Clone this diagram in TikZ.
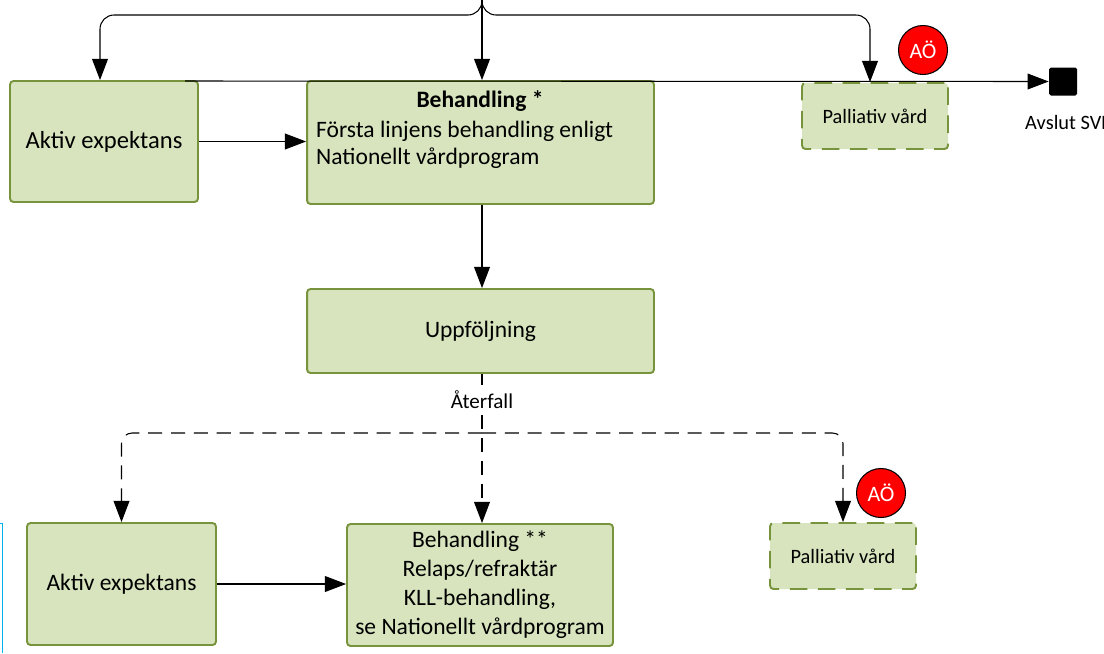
\documentclass[tikz,border=0pt]{standalone}
\usepackage{fontspec}
\setmainfont{Carlito}
\usetikzlibrary{arrows.meta}
\definecolor{boxfill}{HTML}{D7E4BD}
\definecolor{boxline}{HTML}{77933C}
\definecolor{aored}{HTML}{FF0000}
\definecolor{markblue}{HTML}{00B0F0}
\begin{document}
\begin{tikzpicture}[x=0.02cm, y=-0.02cm,
  stepbox/.style={draw=boxline, fill=boxfill, line width=1.1pt, rounded corners=2pt,
    font=\fontsize{13.4}{16.5}\selectfont, align=center, inner sep=0pt},
  pallbox/.style={stepbox, dash pattern=on 10pt off 6pt, font=\fontsize{11.6}{14}\selectfont,
    minimum width=2.92cm, minimum height=1.32cm},
  aocirc/.style={circle, draw=black, line width=0.6pt, fill=aored, text=white,
    minimum size=0.98cm, inner sep=0pt, font=\fontsize{12.5}{14}\selectfont},
  arr/.style={-{Triangle[length=12pt,width=9pt]}, line width=0.6pt},
  plain/.style={font=\fontsize{11.6}{14}\selectfont}]
\useasboundingbox (0,0) rectangle (1104,653);

% Första linjen
\node[stepbox, minimum width=3.76cm, minimum height=2.42cm,
  font=\fontsize{14}{16.5}\selectfont] (aktivA) at (104,141.5) {Aktiv expektans};
\node[stepbox, minimum width=6.94cm, minimum height=2.46cm] (behA) at (480.5,142.5) {};
\node[font=\fontsize{13.4}{16.5}\selectfont\bfseries] (behAtitle) at (480,101) {Behandling *};
\node[anchor=west, align=left, font=\fontsize{13.4}{15.6}\selectfont] (behAtext) at (310,145)
  {Första linjens behandling enligt\\Nationellt vårdprogram};
\node[pallbox] (pallA) at (875,116) {Palliativ vård};
\node[aocirc] (aoA) at (923,50) {AÖ};
\node[fill=black, rounded corners=1pt, minimum size=0.56cm, inner sep=0pt] (endsq) at (1063,81.5) {};
\node[plain, anchor=west] (endtext) at (1019,122) {Avslut SVF};

\coordinate (top) at (482,0);
\coordinate (kL) at (100,15);
\coordinate (kR) at (870,15);
\coordinate (lineStart) at (185,81);
\draw[arr] (top) -- (top |- behA.north);
\draw[arr, rounded corners=8pt] (top) |- (kL) -- (kL |- aktivA.north);
\draw[arr, rounded corners=8pt] (top) |- (kR) -- (kR |- pallA.north);
\draw[arr] (lineStart) -- (endsq.west);
\draw[arr] (aktivA.east) -- (aktivA.east -| behA.west);

% Uppföljning
\node[stepbox, minimum width=6.94cm, minimum height=1.68cm] (upf) at (480.5,331) {Uppföljning};
\draw[arr] (top |- behA.south) -- (top |- upf.north);

% Återfall
\node[plain, font=\fontsize{12}{14}\selectfont] (relapse) at (482,400) {Återfall};
\node[stepbox, minimum width=3.78cm, minimum height=2.44cm] (aktivB) at (121.5,584) {Aktiv expektans};
\node[stepbox, minimum width=5.32cm, minimum height=2.44cm] (behB) at (480,585)
  {Behandling **\\Relaps/refraktär\\KLL-behandling,\\se Nationellt vårdprogram};
\node[pallbox] (pallB) at (843,556) {Palliativ vård};
\node[aocirc] (aoB) at (881,493) {AÖ};

\coordinate (fork) at (482,433);
\draw[line width=0.6pt] (top |- upf.south) -- (relapse.north);
\draw[arr, dash pattern=on 8pt off 5pt] (relapse.south) -- (top |- behB.north);
\draw[arr, dash pattern=on 8pt off 5pt, rounded corners=6pt] (fork) -| (aktivB.north);
\draw[arr, dash pattern=on 8pt off 5pt, rounded corners=6pt] (fork) -| (pallB.north);
\draw[arr] (aktivB.east) -- (aktivB.east -| behB.west);

\draw[markblue, line width=0.5pt] (0,523) -| (2.5,653);
\end{tikzpicture}
\end{document}
